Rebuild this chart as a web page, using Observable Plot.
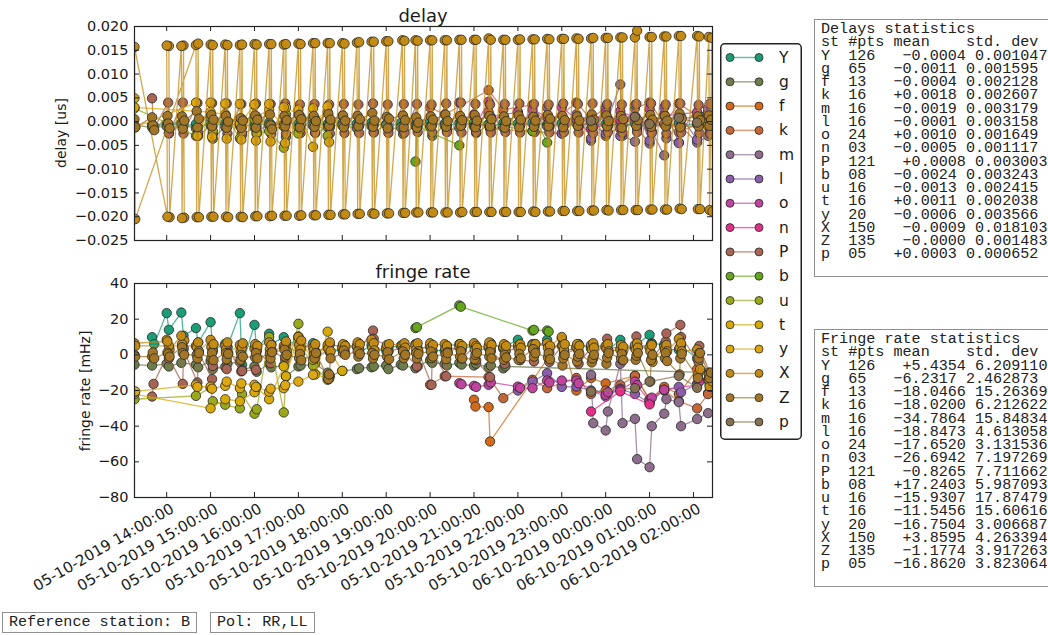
<!DOCTYPE html>
<html><head><meta charset="utf-8">
<script src="https://cdn.jsdelivr.net/npm/d3@7"></script>
<script src="https://cdn.jsdelivr.net/npm/@observablehq/plot@0.6"></script>
<style>
body{margin:0;background:#fff;}
#root{position:relative;width:1048px;height:635px;overflow:hidden;font-family:"DejaVu Sans",sans-serif;color:#1a1a1a;}
#root svg{position:absolute;left:0;}
.title{position:absolute;font-size:18px;transform:translate(-50%,-50%);white-space:nowrap;}
.ylab{position:absolute;font-size:14px;transform:translate(-50%,-50%) rotate(-90deg);white-space:nowrap;}
.box{position:absolute;border:1.5px solid #909090;background:#fff;font-family:"Liberation Mono",monospace;font-size:15.1px;line-height:13.25px;white-space:pre;color:#222;padding:3px 6px 14px 6px;}
.tag{position:absolute;border:1.5px solid #909090;background:#fff;font-family:"Liberation Mono",monospace;font-size:15.1px;line-height:15px;white-space:pre;color:#222;padding:2px 6px;}
</style></head><body><div id="root"></div>
<script>
// ---------- categories ----------
const stations = ["Y","g","f","k","m","l","o","n","P","b","u","t","y","X","Z","p"];
const palette = ["#1b9e77","#6e7d4a","#d2691b","#c4683c","#8c6d8c","#8b5eac","#c0439e","#e2308a","#a86454","#66a61e","#9aa81c","#d6a906","#dda70f","#c38b14","#a27625","#857152"];

// ---------- tick labels ----------
const hourTicks = ["14:00","15:00","16:00","17:00","18:00","19:00","20:00","21:00","22:00","23:00","00:00","01:00","02:00"];
const delayTicks = [-0.025,-0.020,-0.015,-0.010,-0.005,0.000,0.005,0.010,0.015,0.020];
const rateTicks = [-80,-60,-40,-20,0,20,40];

// ---------- series: [time, delay (us), fringe rate (mHz)] ----------
const Y_rows = [["13:40",-0.0006,9.9],["13:43",-0.0010,6.0],["14:00",-0.0004,23.4],["14:03",-0.0008,14.0],["14:20",-0.0003,23.7],["14:23",-0.0009,10.7],["14:40",-0.0005,15.0],["14:43",-0.0012,6.9],["15:00",-0.0002,18.3],["15:03",-0.0008,2.8],["15:20",-0.0004,6.2],["15:23",-0.0010,4.5],["15:40",-0.0003,23.4],["15:43",-0.0011,-5.6],["16:00",-0.0005,16.8],["16:03",-0.0009,3.0],["16:20",-0.0002,11.8],["16:23",-0.0007,6.0],["16:40",-0.0006,9.9],["16:43",-0.0003,5.0],["17:00",-0.0004,8.8],["17:03",-0.0010,3.5],["17:20",0.0002,6.5],["17:23",-0.0006,2.0],["17:40",-0.0005,4.0],["17:43",-0.0012,1.5],["18:00",-0.0003,3.0],["18:03",-0.0008,5.5],["18:20",-0.0004,4.5],["18:23",-0.0009,1.0],["18:40",-0.0002,5.5],["18:43",-0.0007,3.0],["19:00",-0.0005,2.5],["19:03",-0.0010,4.0],["19:20",-0.0003,5.0],["19:23",-0.0008,2.0],["19:40",-0.0004,6.0],["19:43",-0.0011,3.5],["20:00",0.0001,4.5],["20:03",-0.0006,2.5],["20:20",-0.0004,2.4],["20:23",-0.0009,5.0],["20:40",-0.0003,6.0],["20:43",-0.0007,3.0],["21:00",-0.0002,5.5],["21:03",-0.0008,2.0],["21:20",-0.0005,4.0],["21:23",-0.0010,6.5],["21:40",-0.0003,3.5],["21:43",-0.0007,5.0],["22:00",-0.0004,8.4],["22:03",-0.0009,4.0],["22:20",-0.0002,6.0],["22:23",-0.0006,3.0],["22:40",-0.0005,8.4],["22:43",-0.0011,4.5],["23:00",-0.0003,5.0],["23:03",-0.0008,2.0],["23:20",-0.0004,4.0],["23:23",-0.0009,6.0],["23:40",-0.0002,3.5],["23:43",-0.0007,5.5],["00:00",-0.0005,4.5],["00:03",-0.0010,2.5],["00:20",-0.0003,8.4],["00:23",-0.0008,4.0],["00:40",-0.0004,4.0],["00:43",-0.0009,6.0],["01:00",-0.0002,11.2],["01:03",-0.0006,6.5],["01:20",-0.0005,5.6],["01:23",-0.0010,3.0],["01:40",-0.0003,2.8],["01:43",-0.0008,5.0],["02:05",-0.0004,-2.0],["02:08",0.0012,-8.0],["02:20",-0.0003,-21.5],["02:23",0.0008,-14.0]];
const g_rows = [["13:16",-0.0008,-5.5],["13:40",-0.0012,-6.0],["14:00",-0.0010,-5.0],["14:03",-0.0025,-6.5],["14:20",-0.0006,-4.5],["14:40",-0.0014,-5.5],["14:43",-0.0030,-7.0],["15:00",-0.0008,-3.5],["15:03",-0.0036,-8.0],["15:20",-0.0011,-6.8],["15:23",-0.0003,-5.0],["15:40",-0.0009,-4.0],["15:43",-0.0028,-8.5],["16:00",-0.0012,-6.5],["16:03",-0.0020,-9.5],["16:20",-0.0007,-5.0],["16:23",-0.0015,-7.0],["16:40",-0.0010,-6.0],["16:43",-0.0032,-12.0],["17:00",-0.0013,-6.5],["17:03",-0.0006,-6.0],["17:20",-0.0009,-5.5],["17:23",-0.0024,-5.0],["17:40",-0.0011,-10.0],["17:43",0.0002,-12.0],["18:00",-0.0008,-9.0],["18:20",-0.0014,-8.0],["18:23",-0.0004,-7.5],["18:40",-0.0010,-7.0],["18:43",-0.0022,-6.5],["19:00",-0.0007,-6.0],["19:03",-0.0016,-8.0],["19:20",-0.0012,-5.5],["19:23",-0.0026,-6.0],["19:40",-0.0009,-7.5],["19:43",-0.0002,-6.5],["20:00",-0.0011,-3.0],["20:03",-0.0030,-4.5],["20:20",-0.0008,-5.0],["20:23",-0.0018,-6.0],["20:40",-0.0013,-4.5],["20:43",0.0001,-5.5],["21:00",-0.0010,-6.0],["21:03",-0.0024,-5.0],["21:20",-0.0007,-7.0],["21:23",-0.0015,-6.0],["21:40",-0.0012,-7.6],["21:43",-0.0004,-6.5],["02:20",-0.0010,-10.0]];
const f_rows = [["21:00",0.0012,-25.2],["21:02",-0.0008,-29.0],["21:20",0.0020,-29.3],["21:22",-0.0015,-48.6],["23:00",-0.0025,9.3],["23:20",0.0005,-20.0],["23:40",0.0010,-13.0],["00:00",-0.0030,-16.0],["00:40",0.0008,-11.8],["01:00",-0.0012,-25.0],["01:20",0.0015,-18.0],["01:40",-0.0022,-22.0],["02:05",-0.0006,-8.0]];
const k_rows = [["20:00",0.0030,-16.8],["20:20",0.0015,-12.0],["21:20",0.0066,-12.5],["21:40",0.0025,-24.3],["22:20",0.0035,-14.0],["22:40",-0.0010,-18.7],["23:20",0.0040,-13.0],["23:40",0.0005,-22.0],["00:00",0.0030,-20.0],["00:20",-0.0015,-17.0],["00:40",0.0028,-11.8],["01:00",0.0040,-25.2],["01:20",-0.0005,-20.0],["01:40",0.0038,-26.0],["02:05",0.0012,-30.0],["02:20",0.0020,-22.0]];
const m_rows = [["23:40",-0.0040,-11.2],["23:43",-0.0010,-38.3],["00:00",-0.0025,-42.4],["00:03",0.0005,-31.8],["00:20",0.0078,-5.0],["00:23",-0.0030,-38.3],["00:40",-0.0042,-35.9],["00:43",-0.0015,-58.5],["01:00",-0.0046,-63.0],["01:03",-0.0020,-40.0],["01:20",-0.0071,-33.0],["01:23",-0.0035,-24.9],["01:40",-0.0044,-26.5],["01:43",-0.0010,-40.0],["02:05",-0.0044,-36.0],["02:20",-0.0030,-32.7]];
const l_rows = [["22:00",0.0020,-20.0],["22:20",-0.0020,-15.0],["22:40",0.0030,-10.3],["23:00",-0.0025,-18.0],["23:20",0.0015,-17.8],["23:40",-0.0035,-20.0],["00:00",0.0025,-23.4],["00:20",-0.0030,-19.0],["00:40",0.0035,-22.0],["01:00",-0.0040,-27.0],["01:20",0.0030,-19.6],["01:40",-0.0045,-18.0],["01:43",0.0010,-21.0],["02:05",-0.0038,-16.3],["02:20",0.0028,-14.0],["02:23",-0.0020,-16.0]];
const o_rows = [["20:40",0.0040,-15.9],["20:43",0.0005,-16.5],["21:00",0.0015,-17.4],["21:03",-0.0005,-18.0],["21:20",0.0042,-16.8],["21:23",0.0010,-15.5],["22:00",0.0020,-17.8],["22:03",-0.0008,-18.5],["22:20",0.0025,-18.7],["22:40",0.0010,-14.4],["22:43",-0.0010,-15.5],["23:00",0.0030,-14.4],["23:20",0.0005,-14.4],["23:23",-0.0012,-16.0],["00:00",0.0018,-22.4],["00:03",-0.0006,-21.0],["00:20",0.0022,-19.6],["00:40",0.0008,-15.0],["00:43",-0.0010,-17.0],["01:00",0.0026,-26.2],["01:03",0.0002,-24.0],["01:20",0.0012,-19.6],["02:05",0.0020,-16.8],["02:08",-0.0002,-15.0]];
const n_rows = [["23:40",-0.0015,-31.8],["00:20",0.0003,-20.5],["01:00",-0.0003,-27.8]];
const P_rows = [["13:40",0.0049,-23.4],["13:42",-0.0016,-16.3],["14:02",0.0040,1.0],["14:03",-0.0024,-2.0],["14:22",0.0040,-16.3],["14:23",-0.0025,3.0],["14:42",0.0039,-15.5],["14:43",-0.0024,2.0],["15:02",0.0039,-13.6],["15:03",-0.0026,-6.2],["15:22",0.0038,-8.0],["15:23",-0.0025,4.0],["15:42",0.0037,-9.3],["15:43",-0.0024,-9.0],["16:02",0.0038,-8.4],["16:03",-0.0025,2.0],["16:22",0.0037,-4.7],["16:23",-0.0026,3.0],["16:42",0.0038,-2.8],["16:43",-0.0025,5.0],["17:02",0.0036,1.0],["17:03",-0.0024,4.0],["17:22",0.0037,5.0],["17:23",-0.0023,-2.0],["17:42",0.0036,3.0],["17:43",-0.0025,6.0],["18:02",0.0037,4.0],["18:03",-0.0024,2.0],["18:22",0.0036,6.5],["18:23",-0.0024,3.0],["18:42",0.0038,13.6],["18:43",-0.0023,9.0],["19:02",0.0036,5.0],["19:03",-0.0024,2.0],["19:24",0.0037,4.0],["19:25",-0.0023,1.0],["19:42",0.0037,-6.5],["19:43",-0.0022,3.0],["20:02",0.0036,-16.8],["20:03",-0.0023,2.0],["20:22",0.0038,-12.0],["20:23",-0.0022,4.0],["20:42",0.0040,3.0],["20:43",-0.0023,-2.0],["21:02",0.0037,5.0],["21:03",-0.0022,-3.0],["21:22",0.0036,-12.5],["21:23",-0.0023,2.0],["21:42",0.0037,-5.0],["21:43",-0.0022,2.0],["22:02",0.0038,4.0],["22:03",-0.0023,-3.0],["22:22",0.0037,-3.7],["22:23",-0.0022,6.0],["22:42",0.0036,5.0],["22:43",-0.0023,-4.0],["23:02",0.0038,6.0],["23:03",-0.0022,0.0],["23:22",0.0037,4.0],["23:23",-0.0023,-5.0],["23:42",0.0038,5.0],["23:43",-0.0024,-2.0],["00:02",0.0037,9.0],["00:03",-0.0022,3.0],["00:22",0.0036,5.0],["00:23",-0.0023,-3.0],["00:42",0.0037,10.3],["00:43",-0.0022,4.0],["01:02",0.0038,6.0],["01:03",-0.0024,-2.0],["01:22",0.0036,7.5],["01:23",-0.0025,12.0],["01:42",0.0038,16.8],["01:43",-0.0023,10.0],["02:07",0.0035,-4.0],["02:08",-0.0024,5.0],["02:22",0.0037,-10.0],["02:23",-0.0026,-18.0]];
const b_rows = [["19:40",-0.0084,15.0],["19:42",-0.0010,15.5],["20:40",-0.0050,27.7],["20:42",0.0005,27.0],["22:20",-0.0020,13.6],["22:22",0.0010,14.0],["22:40",-0.0044,13.6],["22:42",-0.0005,13.0]];
const u_rows = [["13:16",0.0028,-24.9],["14:40",-0.0030,-23.0],["15:00",0.0010,-18.5],["15:03",-0.0020,-26.0],["15:20",0.0015,-28.0],["15:40",-0.0035,-30.0],["15:43",0.0005,-22.0],["16:00",0.0005,-33.0],["16:03",-0.0025,-30.5],["16:20",-0.0020,10.0],["16:40",-0.0055,-32.3],["16:43",0.0015,-12.0],["17:00",-0.0025,17.4],["17:03",0.0010,5.0],["17:20",0.0008,-6.0],["17:40",-0.0030,-14.0]];
const t_rows = [["13:16",0.0030,-22.0],["15:00",0.0020,-30.0],["15:20",0.0015,-24.9],["15:40",-0.0005,-26.0],["16:00",0.0035,-21.0],["16:03",0.0010,-18.0],["16:20",0.0025,-24.9],["16:40",-0.0010,-6.5],["16:43",0.0030,-12.0],["17:00",0.0015,10.3],["17:03",-0.0015,8.0],["17:20",0.0028,-2.8],["17:23",0.0005,-11.0],["17:40",0.0020,13.0],["17:43",-0.0008,2.0],["18:00",0.0012,-9.0]];
const y_rows = [["13:16",0.0049,-21.0],["13:17",-0.0012,-20.5],["14:40",0.0040,-16.8],["14:42",-0.0030,-18.0],["15:00",0.0040,-17.8],["15:02",-0.0032,-19.0],["15:20",0.0038,-17.4],["15:22",-0.0036,-15.0],["15:40",0.0037,-18.7],["15:42",-0.0038,-16.0],["16:00",0.0036,-16.8],["16:02",-0.0040,-18.0],["16:20",0.0037,-20.7],["16:22",-0.0042,-19.0],["16:40",0.0030,-18.7],["16:42",-0.0045,-17.0],["17:00",0.0025,-15.0],["17:20",-0.0053,-11.2],["17:40",0.0032,-12.7],["17:42",-0.0043,-13.5]];
// X rows are kept in the order in which the line joins them
const X_rows = [
["14:24",-0.0202,8.0],["14:23",0.0160,4.0],["14:21",-0.0203,6.0],["14:20",0.0159,10.7],
["14:04",-0.0201,3.0],["14:03",0.0159,5.0],["14:00",0.0160,8.4],["14:01",-0.0200,7.5],
["13:16",0.0157,6.5],["13:17",-0.0205,5.0],
["14:40",0.0161,5.0],["14:41",-0.0201,4.3],["14:43",0.0164,7.0],["14:44",-0.0201,2.0],
["15:00",0.0162,8.4],["15:01",-0.0200,4.3],["15:03",0.0161,2.0],["15:04",-0.0200,6.0],
["15:20",0.0162,5.0],["15:21",-0.0200,3.0],["15:23",0.0161,7.0],["15:24",-0.0201,1.0],
["15:40",0.0161,5.5],["15:41",-0.0200,2.0],["15:43",0.0162,4.0],["15:44",-0.0201,6.5],
["16:00",0.0163,3.5],["16:01",-0.0199,6.0],["16:03",0.0162,2.5],["16:04",-0.0199,5.0],
["16:20",0.0163,7.0],["16:21",-0.0199,3.0],["16:23",0.0163,5.5],["16:24",-0.0198,1.5],
["16:40",0.0162,5.0],["16:41",-0.0198,4.0],["16:43",0.0163,7.5],["16:44",-0.0198,2.0],
["17:00",0.0164,10.0],["17:01",-0.0198,5.5],["17:03",0.0163,3.0],["17:04",-0.0197,8.0],
["17:20",0.0165,4.0],["17:21",-0.0197,2.5],["17:23",0.0165,6.0],["17:24",-0.0197,0.5],
["17:40",0.0165,5.5],["17:41",-0.0196,3.5],["17:43",0.0165,7.0],["17:44",-0.0196,2.0],
["18:00",0.0165,4.5],["18:01",-0.0195,6.0],["18:03",0.0164,2.0],["18:04",-0.0195,5.0],
["18:20",0.0166,5.0],["18:21",-0.0194,7.0],["18:23",0.0167,3.0],["18:24",-0.0194,6.0],
["18:40",0.0168,8.5],["18:41",-0.0193,4.0],["18:43",0.0168,6.5],["18:44",-0.0194,2.5],
["19:00",0.0169,4.0],["19:01",-0.0193,5.5],["19:03",0.0169,2.0],["19:04",-0.0193,6.0],
["19:22",0.0171,5.5],["19:23",-0.0192,3.0],["19:25",0.0170,6.5],["19:26",-0.0192,4.0],
["19:40",0.0171,5.6],["19:41",-0.0191,3.0],["19:43",0.0170,6.5],["19:44",-0.0191,2.0],
["20:00",0.0171,6.5],["20:01",-0.0191,4.0],["20:03",0.0171,2.5],["20:04",-0.0191,5.5],
["20:20",0.0171,6.0],["20:21",-0.0191,3.5],["20:23",0.0171,5.0],["20:24",-0.0191,1.5],
["20:40",0.0172,4.5],["20:41",-0.0191,6.0],["20:43",0.0172,2.5],["20:44",-0.0190,5.0],
["21:00",0.0172,6.5],["21:01",-0.0190,3.0],["21:03",0.0172,5.0],["21:04",-0.0190,4.0],
["21:20",0.0175,5.0],["21:21",-0.0190,7.0],["21:23",0.0172,3.0],["21:24",-0.0190,5.5],
["21:40",0.0172,4.5],["21:41",-0.0190,6.0],["21:43",0.0172,2.0],["21:44",-0.0190,5.0],
["22:00",0.0172,5.0],["22:01",-0.0190,3.5],["22:03",0.0173,6.0],["22:04",-0.0190,4.0],
["22:20",0.0173,5.5],["22:21",-0.0189,2.5],["22:23",0.0173,4.5],["22:24",-0.0190,6.0],
["22:40",0.0174,6.5],["22:41",-0.0189,4.0],["22:43",0.0173,1.5],["22:44",-0.0189,5.0],
["23:00",0.0174,10.0],["23:01",-0.0188,5.0],["23:03",0.0174,3.0],["23:04",-0.0188,6.0],
["23:20",0.0175,4.5],["23:21",-0.0188,6.0],["23:23",0.0174,2.0],["23:24",-0.0188,5.0],
["23:40",0.0175,5.5],["23:41",-0.0187,3.0],["23:43",0.0176,6.5],["23:44",-0.0187,4.0],
["00:00",0.0176,5.0],["00:01",-0.0186,3.5],["00:03",0.0176,6.0],["00:04",-0.0187,2.0],
["00:20",0.0177,3.0],["00:21",-0.0186,5.5],["00:23",0.0177,1.5],["00:24",-0.0186,4.5],
["00:40",0.0177,5.5],["00:41",-0.0186,3.0],["00:43",0.0191,6.5],["00:44",-0.0186,4.0],
["01:00",0.0178,4.0],["01:01",-0.0185,2.0],["01:03",0.0178,5.5],["01:04",-0.0185,-4.0],
["01:20",0.0179,4.5],["01:21",-0.0185,3.0],["01:23",0.0179,5.5],["01:24",-0.0185,2.0],
["01:40",0.0180,9.0],["01:41",-0.0183,4.0],["01:43",0.0180,6.5],["01:44",-0.0184,2.0],
["02:05",0.0180,3.0],["02:06",-0.0184,-11.2],["02:08",0.0179,1.0],["02:09",-0.0184,-8.0],
["02:21",0.0178,-14.0],["02:22",-0.0186,-17.8],["02:25",0.0176,-12.0],["02:26",-0.0189,-15.0]];
const Z_rows = [["13:16",0.0005,0.0],["13:17",-0.0012,-1.0],
["13:40",0.0009,-1.0],["13:41",-0.0008,1.3],["13:43",-0.0018,-2.0],
["14:01",0.0012,1.3],["14:02",-0.0004,0.5],["14:04",-0.0014,-1.0],
["14:21",0.0011,4.3],["14:22",-0.0015,1.0],["14:24",0.0002,0.0],
["14:41",0.0022,0.0],["14:42",-0.0012,-2.0],["14:44",0.0006,1.0],
["15:01",0.0014,-1.9],["15:02",-0.0010,1.0],["15:04",0.0004,-3.0],
["15:21",0.0012,1.0],["15:22",-0.0013,-2.5],["15:24",0.0000,0.5],
["15:41",0.0007,-2.8],["15:42",-0.0013,0.0],["15:44",0.0002,-1.0],
["16:01",0.0013,-1.5],["16:02",-0.0013,1.0],["16:04",0.0004,-2.0],
["16:21",0.0015,0.5],["16:22",-0.0008,-2.0],["16:24",-0.0016,1.5],
["16:41",0.0011,2.8],["16:42",-0.0010,-1.0],["16:44",0.0003,0.0],
["17:01",0.0014,-1.9],["17:02",-0.0012,0.5],["17:04",0.0005,-3.0],
["17:21",0.0012,0.0],["17:22",-0.0011,-2.0],["17:24",0.0001,1.0],
["17:41",0.0016,-13.6],["17:42",-0.0009,-11.0],["17:44",0.0004,-2.0],
["18:01",0.0013,1.0],["18:02",-0.0012,2.5],["18:04",0.0002,0.0],
["18:21",0.0012,1.9],["18:22",-0.0010,-1.0],["18:24",0.0005,0.5],
["18:41",0.0018,1.0],["18:42",-0.0011,-2.0],["18:44",0.0002,0.0],
["19:01",0.0010,-1.0],["19:02",-0.0014,1.5],["19:04",0.0006,-2.5],
["19:23",0.0013,1.9],["19:24",-0.0012,-1.9],["19:26",0.0003,0.0],
["19:41",0.0009,1.0],["19:42",-0.0013,-2.0],["19:44",-0.0002,0.5],
["20:01",0.0011,1.9],["20:02",-0.0010,-1.9],["20:04",0.0004,-1.0],
["20:21",0.0015,0.5],["20:22",-0.0011,-2.4],["20:24",0.0001,1.0],
["20:41",0.0012,-1.0],["20:42",-0.0009,2.0],["20:44",0.0003,-2.0],
["21:01",0.0014,-2.4],["21:02",-0.0012,0.0],["21:04",0.0002,1.0],
["21:21",0.0012,-1.0],["21:22",-0.0010,1.5],["21:24",0.0005,-2.0],
["21:41",0.0011,-2.8],["21:42",-0.0013,0.0],["21:44",0.0001,-1.5],
["22:01",0.0013,-2.8],["22:02",-0.0012,0.5],["22:04",0.0004,-2.0],
["22:21",0.0010,3.2],["22:22",-0.0011,-1.0],["22:24",0.0002,1.0],
["22:41",0.0014,-1.5],["22:42",-0.0010,1.0],["22:44",0.0006,-2.5],
["23:01",0.0012,-6.0],["23:02",-0.0012,-2.0],["23:04",0.0003,0.0],
["23:21",0.0011,-3.7],["23:22",-0.0009,-1.0],["23:24",0.0002,0.5],
["23:41",0.0015,-4.3],["23:42",-0.0011,-2.0],["23:44",0.0004,0.0],
["00:01",0.0013,-5.0],["00:02",-0.0010,-1.5],["00:04",0.0001,1.0],
["00:21",0.0012,-2.0],["00:22",-0.0013,0.5],["00:24",0.0005,-3.0],
["00:41",0.0010,-2.8],["00:42",-0.0009,-0.5],["00:44",0.0003,1.0],
["01:01",0.0014,-15.0],["01:02",-0.0011,-3.0],["01:04",0.0004,0.0],
["01:21",0.0012,-2.0],["01:22",-0.0010,1.0],["01:24",0.0002,-3.5],
["01:41",0.0017,-11.0],["01:42",-0.0012,-2.0],["01:44",0.0006,0.5],
["02:06",0.0011,-13.0],["02:07",-0.0010,-2.0],["02:09",0.0003,1.0],
["02:21",0.0013,-11.0],["02:22",-0.0009,-13.0],["02:24",0.0004,-10.0]];
const p_rows = [["23:40",0.0002,-20.6],["00:40",0.0010,-18.7],["01:00",-0.0005,-15.0],["01:40",0.0008,-11.8],["02:05",-0.0002,-18.5]];

// ---------- statistics text ----------
const delayStats = [
"Delays statistics",
"st #pts mean    std. dev",
"Y  126   −0.0004 0.001047","g  65   −0.0011 0.001595","f  13   −0.0004 0.002128","k  16   +0.0018 0.002607",
"m  16   −0.0019 0.003179","l  16   −0.0001 0.003158","o  24   +0.0010 0.001649","n  03   −0.0005 0.001117",
"P  121   +0.0008 0.003003","b  08   −0.0024 0.003243","u  16   −0.0013 0.002415","t  16   +0.0011 0.002038",
"y  20   −0.0006 0.003566","X  150   −0.0009 0.018103","Z  135   −0.0000 0.001483","p  05   +0.0003 0.000652"];
const rateStats = [
"Fringe rate statistics",
"st #pts mean    std. dev",
"Y  126   +5.4354 6.209110","g  65   −6.2317 2.462873","f  13   −18.0466 15.26369","k  16   −18.0200 6.212622",
"m  16   −34.7864 15.84834","l  16   −18.8473 4.613058","o  24   −17.6520 3.131536","n  03   −26.6942 7.197269",
"P  121   −0.8265 7.711662","b  08   +17.2403 5.987093","u  16   −15.9307 17.87479","t  16   −11.5456 15.60616",
"y  20   −16.7504 3.006687","X  150   +3.8595 4.263394","Z  135   −1.1774 3.917263","p  05   −16.8620 3.823064"];
const refStation = "Reference station: B";
const polText = "Pol: RR,LL";

// ---------- build ----------
function T(s){const [h,m]=s.split(":").map(Number);return new Date(Date.UTC(2019,9,h<12?6:5,h,m));}
const rowSets = {Y:Y_rows,g:g_rows,f:f_rows,k:k_rows,m:m_rows,l:l_rows,o:o_rows,n:n_rows,P:P_rows,b:b_rows,u:u_rows,t:t_rows,y:y_rows,X:X_rows,Z:Z_rows,p:p_rows};
const series = stations.map((s,i)=>({s, color:palette[i], rows:rowSets[s].map(([t,d,r])=>({t:T(t),delay:d,rate:r}))}));
const allTimes = series.flatMap(d=>d.rows.map(r=>r.t));
const xDomain = d3.extent(allTimes);
const hours = hourTicks.map(T);
const fmtTime = d3.utcFormat("%d-%m-%Y %H:%M:%S");

function stationMarks(field){
  return series.flatMap(d=>[
    Plot.line(d.rows,{x:"t",y:field,stroke:d.color,strokeWidth:1.3,strokeOpacity:0.75,clip:true}),
    Plot.dot(d.rows,{x:"t",y:field,r:4.7,fill:d.color,stroke:"#262626",strokeWidth:0.8,clip:true})
  ]);
}
const FW = 578, FH = 214;
function tickMarks(yt){
  return [
    Plot.tickX(hours,{x:d=>d,insetTop:FH-5,stroke:"#222"}),
    Plot.tickX(hours,{x:d=>d,insetBottom:FH-5,stroke:"#222"}),
    Plot.tickY(yt,{y:d=>d,insetRight:FW-5,stroke:"#222"}),
    Plot.tickY(yt,{y:d=>d,insetLeft:FW-5,stroke:"#222"})
  ];
}
const style = {fontFamily:'"DejaVu Sans", sans-serif',fontSize:"14.5px",color:"#1a1a1a",background:"transparent",overflow:"visible"};

const topPlot = Plot.plot({
  width:720,height:250,marginLeft:134,marginRight:8,marginTop:26,marginBottom:10,style,
  x:{type:"utc",domain:xDomain,axis:null},
  y:{domain:[-0.025,0.020]},
  marks:[
    ...stationMarks("delay"),
    ...tickMarks(delayTicks),
    Plot.axisY(delayTicks,{tickFormat:d3.format(".3f"),tickSize:0,tickPadding:6,label:null}),
    Plot.frame({stroke:"#222",strokeWidth:1.2})
  ]
});
const botPlot = Plot.plot({
  width:720,height:385,marginLeft:134,marginRight:8,marginTop:33,marginBottom:138,style,
  x:{type:"utc",domain:xDomain,axis:null},
  y:{domain:[-80,40]},
  marks:[
    ...stationMarks("rate"),
    ...tickMarks(rateTicks),
    Plot.axisY(rateTicks,{tickFormat:d3.format("d"),tickSize:0,tickPadding:6,label:null}),
    Plot.text(hours,{x:d=>d,frameAnchor:"bottom",text:d=>fmtTime(d),rotate:-30,textAnchor:"end",lineAnchor:"top",dy:5,dx:3,fontSize:15,fill:"#1a1a1a"}),
    Plot.frame({stroke:"#222",strokeWidth:1.2})
  ]
});

const root = document.getElementById("root");
topPlot.style.top = "0px"; botPlot.style.top = "250px";
root.appendChild(topPlot); root.appendChild(botPlot);

function addDiv(cls, text, css){const d=document.createElement("div");d.className=cls;d.textContent=text;Object.assign(d.style,css);root.appendChild(d);return d;}
addDiv("title","delay",{left:"423px",top:"15px"});
addDiv("title","fringe rate",{left:"423px",top:"271px"});
addDiv("ylab","delay [us]",{left:"61px",top:"133px"});
addDiv("ylab","fringe rate [mHz]",{left:"85px",top:"391px"});
addDiv("box",delayStats.join("\n"),{left:"814px",top:"19px",width:"300px"});
addDiv("box",rateStats.join("\n"),{left:"814px",top:"329px",width:"300px"});
addDiv("tag",refStation,{left:"2px",top:"612px"});
addDiv("tag",polText,{left:"210px",top:"612px"});

// legend
const NS="http://www.w3.org/2000/svg";
const lg=document.createElementNS(NS,"svg");
lg.setAttribute("width","82");lg.setAttribute("height","397");
Object.assign(lg.style,{left:"720px",top:"43px"});
const rect=document.createElementNS(NS,"rect");
Object.entries({x:0.75,y:0.75,width:80.5,height:395.5,rx:4,fill:"#fff",stroke:"#222","stroke-width":1.5}).forEach(([k,v])=>rect.setAttribute(k,v));
lg.appendChild(rect);
series.forEach((d,i)=>{
  const cy=14.5+i*24.3;
  const ln=document.createElementNS(NS,"line");
  Object.entries({x1:10,x2:39,y1:cy,y2:cy,stroke:d.color,"stroke-width":1.5,"stroke-opacity":0.65}).forEach(([k,v])=>ln.setAttribute(k,v));
  lg.appendChild(ln);
  [10,39].forEach(cx=>{const c=document.createElementNS(NS,"circle");Object.entries({cx,cy,r:4,fill:d.color,stroke:"#262626","stroke-width":0.8}).forEach(([k,v])=>c.setAttribute(k,v));lg.appendChild(c);});
  const tx=document.createElementNS(NS,"text");
  Object.entries({x:59,y:cy,"dominant-baseline":"central","font-family":'"DejaVu Sans", sans-serif',"font-size":"15.5px",fill:"#1a1a1a"}).forEach(([k,v])=>tx.setAttribute(k,v));
  tx.textContent=d.s; lg.appendChild(tx);
});
root.appendChild(lg);
</script></body></html>
